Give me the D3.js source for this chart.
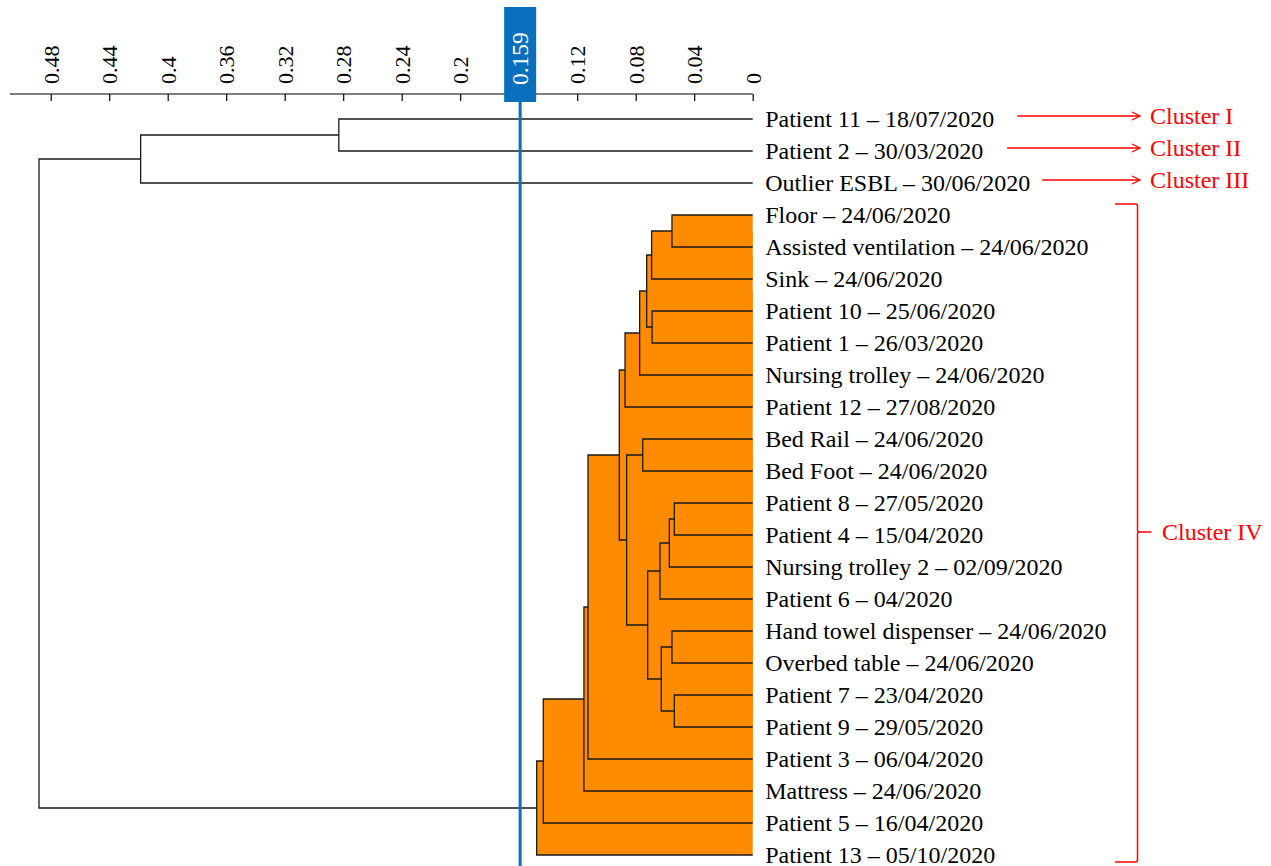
<!DOCTYPE html>
<html>
<head>
<meta charset="utf-8">
<script src="https://cdn.jsdelivr.net/npm/d3@7"></script>
<style>
  html, body { margin: 0; padding: 0; background: #fff; }
  svg { display: block; }
  text { font-family: "Liberation Serif", "Times New Roman", serif; }
</style>
</head>
<body>
<svg id="chart" width="1271" height="866"></svg>
<script>
// ---------------- DATA ----------------
const leafLabels = [
  "Patient 11 – 18/07/2020",
  "Patient 2 – 30/03/2020",
  "Outlier ESBL – 30/06/2020",
  "Floor – 24/06/2020",
  "Assisted ventilation – 24/06/2020",
  "Sink – 24/06/2020",
  "Patient 10 – 25/06/2020",
  "Patient 1 – 26/03/2020",
  "Nursing trolley – 24/06/2020",
  "Patient 12 – 27/08/2020",
  "Bed Rail – 24/06/2020",
  "Bed Foot – 24/06/2020",
  "Patient 8 – 27/05/2020",
  "Patient 4 – 15/04/2020",
  "Nursing trolley 2 – 02/09/2020",
  "Patient 6 – 04/2020",
  "Hand towel dispenser – 24/06/2020",
  "Overbed table – 24/06/2020",
  "Patient 7 – 23/04/2020",
  "Patient 9 – 29/05/2020",
  "Patient 3 – 06/04/2020",
  "Mattress – 24/06/2020",
  "Patient 5 – 16/04/2020",
  "Patient 13 – 05/10/2020"
];
// linkage (scipy style): ids < n are leaves, id n+i is merge i
const mergeLeft   = [0, 24, 3, 26, 6, 27, 29, 30, 10, 12, 33, 34, 16, 18, 36, 35, 32, 31, 41, 42, 43, 44, 25];
const mergeRight  = [1, 2, 4, 5, 7, 28, 8, 9, 11, 13, 14, 15, 17, 19, 37, 38, 39, 40, 20, 21, 22, 23, 45];
const mergeHeight = [0.283, 0.4185, 0.0552, 0.0691, 0.0688, 0.0725, 0.0773, 0.0873, 0.0752, 0.0536, 0.057, 0.0634,
                     0.0552, 0.0536, 0.0625, 0.0718, 0.0862, 0.0912, 0.1126, 0.1154, 0.1432, 0.1477, 0.488];
const tickValues = [0, 0.04, 0.08, 0.12, 0.16, 0.2, 0.24, 0.28, 0.32, 0.36, 0.4, 0.44, 0.48];
const tickLabels = ["0", "0.04", "0.08", "0.12", "", "0.2", "0.24", "0.28", "0.32", "0.36", "0.4", "0.44", "0.48"];
const threshold = 0.159;
const clusterNames = ["Cluster I", "Cluster II", "Cluster III"];
const clusterLeaves = [0, 1, 2];
const clusterIVName = "Cluster IV";
const clusterIVRange = [3, 23];

// ---------------- LAYOUT ----------------
const svg = d3.select("#chart");
const n = leafLabels.length;
const axisY = 94;
const x = d3.scaleLinear().domain([0, 0.48]).range([752.7, 50.7]);
const y = d3.scalePoint().domain(d3.range(n)).range([119, 855]);

// build node table
const nodes = [];
for (let i = 0; i < n; i++) nodes.push({ id: i, h: 0, y: y(i), leaf: true });
for (let i = 0; i < mergeLeft.length; i++) {
  const a = nodes[mergeLeft[i]], b = nodes[mergeRight[i]];
  nodes.push({ id: n + i, h: mergeHeight[i], a, b, y: (a.y + b.y) / 2, leaf: false });
}
const internal = nodes.filter(d => !d.leaf);

// orange fill for nodes below the cut threshold
svg.append("g").selectAll("rect")
  .data(internal.filter(d => d.h < threshold))
  .join("rect")
  .attr("x", d => x(d.h))
  .attr("y", d => Math.min(d.a.y, d.b.y))
  .attr("width", d => x(0) - x(d.h))
  .attr("height", d => Math.abs(d.b.y - d.a.y))
  .attr("fill", "#ff8c00");

// links
svg.append("g").selectAll("path")
  .data(internal)
  .join("path")
  .attr("d", d => `M${x(d.a.h)},${d.a.y}H${x(d.h)}V${d.b.y}H${x(d.b.h)}`)
  .attr("fill", "none")
  .attr("stroke", "#1a1a1a")
  .attr("stroke-width", 1.3);

// leaf labels
const labelG = svg.append("g");
labelG.selectAll("text")
  .data(leafLabels)
  .join("text")
  .attr("x", x(0) + 12.5)
  .attr("y", (d, i) => y(i))
  .attr("dy", "0.33em")
  .attr("font-size", "24px")
  .attr("fill", "#000")
  .text(d => d);

// axis
const axis = d3.axisTop(x)
  .tickValues(tickValues)
  .tickFormat((d, i) => tickLabels[i])
  .tickSizeInner(-7)
  .tickSizeOuter(0);
const gAxis = svg.append("g").attr("transform", `translate(0,${axisY})`).call(axis);
gAxis.select(".domain").remove();
gAxis.append("line")
  .attr("x1", 10).attr("x2", x(0))
  .attr("stroke", "#000").attr("stroke-width", 1.2);
gAxis.selectAll(".tick line").attr("stroke", "#000").attr("stroke-width", 1.2);
gAxis.selectAll(".tick text")
  .attr("transform", "rotate(-90)")
  .attr("x", 10).attr("y", 0).attr("dy", "0.35em")
  .attr("text-anchor", "start")
  .attr("font-size", "22px")
  .attr("fill", "#000");

// threshold line + label box
const blue = "#0a6fbd";
svg.append("line")
  .attr("x1", x(threshold)).attr("x2", x(threshold))
  .attr("y1", 100).attr("y2", 866)
  .attr("stroke", blue).attr("stroke-width", 3);
svg.append("rect")
  .attr("x", x(threshold) - 16).attr("y", 7)
  .attr("width", 32).attr("height", 95)
  .attr("fill", blue);
svg.append("text")
  .attr("transform", `translate(${x(threshold)},${axisY - 9}) rotate(-90)`)
  .attr("dy", "0.35em")
  .attr("font-size", "23.5px")
  .attr("fill", "#fff")
  .text(String(threshold));

// cluster annotations I-III
const red = "#ff0000";
const arrowGap = [23, 24, 12];
const labelNodes = labelG.selectAll("text").nodes();
clusterNames.forEach((name, k) => {
  const li = clusterLeaves[k];
  const bb = labelNodes[li].getBBox();
  const ay = y(li) - 3;
  const x0 = bb.x + bb.width + arrowGap[k];
  const x1 = 1140;
  svg.append("line").attr("x1", x0).attr("x2", x1).attr("y1", ay).attr("y2", ay)
    .attr("stroke", red).attr("stroke-width", 1.3);
  svg.append("path").attr("d", `M${x1 - 8},${ay - 4}L${x1},${ay}L${x1 - 8},${ay + 4}`)
    .attr("fill", "none").attr("stroke", red).attr("stroke-width", 1.3);
  svg.append("text").attr("x", 1150).attr("y", ay).attr("dy", "0.33em")
    .attr("font-size", "24px").attr("fill", red).text(name);
});

// cluster IV bracket
const bTop = y(clusterIVRange[0]) - 11;
const bBot = y(clusterIVRange[1]) + 7;
const bMid = (y(clusterIVRange[0]) + y(clusterIVRange[1])) / 2 - 3;
const bx = 1137.5;
svg.append("path")
  .attr("d", `M1115,${bTop}H${bx - 2}Q${bx},${bTop} ${bx},${bTop + 2}V${bMid - 2}Q${bx},${bMid} ${bx + 2},${bMid}H${bx + 14}` +
             `M${bx + 2},${bMid}Q${bx},${bMid} ${bx},${bMid + 2}V${bBot - 2}Q${bx},${bBot} ${bx - 2},${bBot}H1115`)
  .attr("fill", "none").attr("stroke", red).attr("stroke-width", 1.5);
svg.append("text").attr("x", 1162).attr("y", bMid).attr("dy", "0.33em")
  .attr("font-size", "24px").attr("fill", red).text(clusterIVName);
</script>
</body>
</html>
